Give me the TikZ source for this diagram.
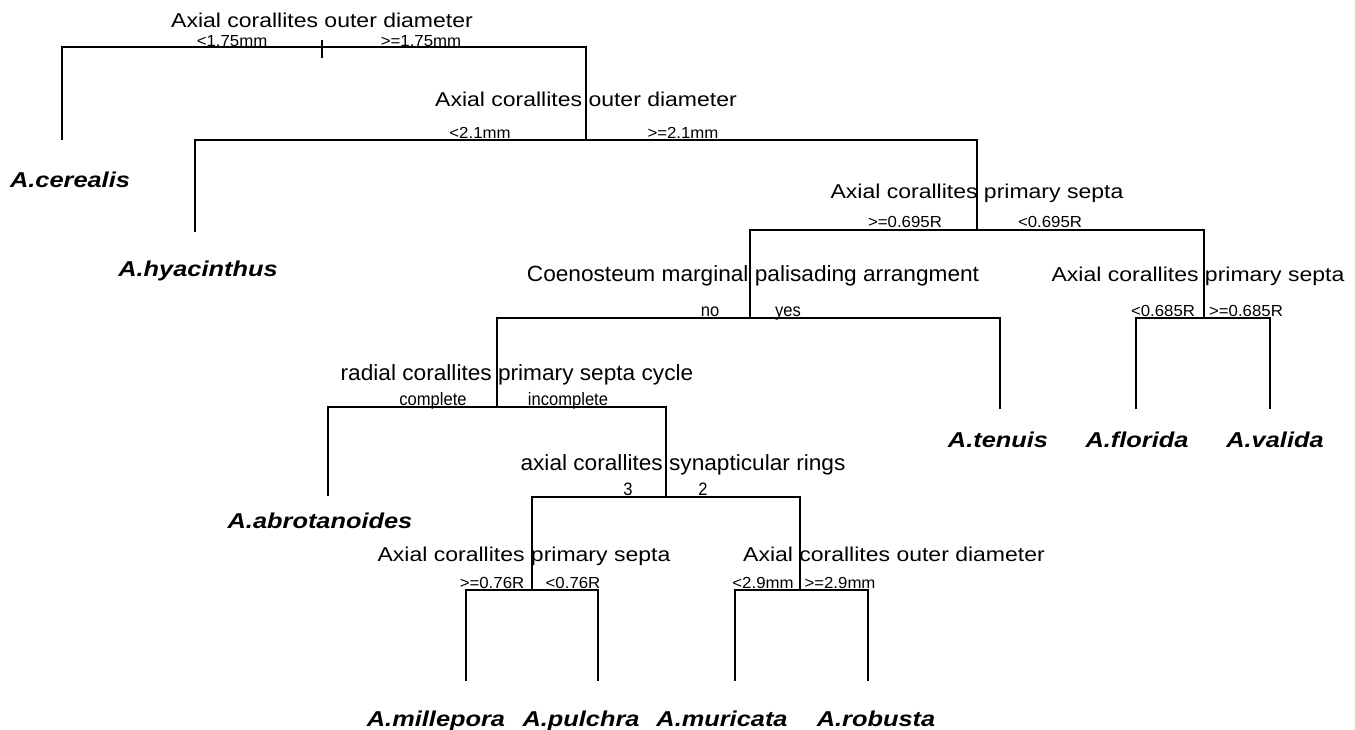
\documentclass[tikz,border=0pt]{standalone}
\usepackage{fontspec}
\setmainfont{Liberation Sans}
\newfontfamily\wideF[FakeStretch=1.15]{Liberation Sans}
\newfontfamily\narrowF[FakeStretch=1.03]{Liberation Sans}
\newfontfamily\smallwF[FakeStretch=1.05]{Liberation Sans}
\newfontfamily\smallnF[FakeStretch=0.92]{Liberation Sans}
\newfontfamily\speciesF[FakeStretch=1.18]{Liberation Sans}
\tikzset{
  edge/.style={line width=1.8pt, black},
  widelab/.style={anchor=base, inner sep=0pt, font={\wideF\fontsize{20}{24}\selectfont}},
  narrowlab/.style={anchor=base, inner sep=0pt, font={\narrowF\fontsize{22}{26}\selectfont}},
  smallw/.style={anchor=base, inner sep=0pt, font={\smallwF\fontsize{16}{19}\selectfont}},
  smalln/.style={anchor=base, inner sep=0pt, font={\smallnF\fontsize{18}{21}\selectfont}},
  species/.style={anchor=base, inner sep=0pt, font={\speciesF\bfseries\itshape\fontsize{21.5}{25}\selectfont}}
}
\begin{document}
\begin{tikzpicture}[x=1pt,y=-1pt]
\fill[white] (0,0) rectangle (1355,729);
\useasboundingbox (0,0) rectangle (1355,729);
% split points (bar level)
\coordinate (n1) at (322,47);
\coordinate (n2) at (586,140);
\coordinate (n3) at (977,230);
\coordinate (n4) at (750,318);
\coordinate (n5) at (1204,318);
\coordinate (n6) at (497,407);
\coordinate (n7) at (666,497);
\coordinate (n8) at (532,590);
\coordinate (n9) at (800,590);
% leaf line ends
\coordinate (e1) at (62,140);
\coordinate (e2) at (195,232);
\coordinate (e3) at (1000,409);
\coordinate (e4) at (1136,409);
\coordinate (e5) at (1270,409);
\coordinate (e6) at (328,496);
\coordinate (e7) at (466,681);
\coordinate (e8) at (598,681);
\coordinate (e9) at (735,681);
\coordinate (e10) at (868,681);
% connectors
\draw[edge] (e1) |- (n1);
\draw[edge] (n2) |- (n1);
\draw[edge] ([yshift=7pt]n1) -- ([yshift=-11pt]n1);
\draw[edge] (e2) |- (n2);
\draw[edge] (n3) |- (n2);
\draw[edge] (n4) |- (n3);
\draw[edge] (n5) |- (n3);
\draw[edge] (n6) |- (n4);
\draw[edge] (e3) |- (n4);
\draw[edge] (e4) |- (n5);
\draw[edge] (e5) |- (n5);
\draw[edge] (e6) |- (n6);
\draw[edge] (n7) |- (n6);
\draw[edge] (n8) |- (n7);
\draw[edge] (n9) |- (n7);
\draw[edge] (e7) |- (n8);
\draw[edge] (e8) |- (n8);
\draw[edge] (e9) |- (n9);
\draw[edge] (e10) |- (n9);
% split labels
\node[widelab] (t1) at (322,27) {Axial corallites outer diameter};
\node[smallw] (t1a) at (232,46) {<1.75mm};
\node[smallw] (t1b) at (421,46) {>=1.75mm};
\node[widelab] (t2) at (586,106) {Axial corallites outer diameter};
\node[smallw] (t2a) at (480,138) {<2.1mm};
\node[smallw] (t2b) at (683,138) {>=2.1mm};
\node[widelab] (t3) at (977,198) {Axial corallites primary septa};
\node[smallw] (t3a) at (905,227) {>=0.695R};
\node[smallw] (t3b) at (1050,227) {<0.695R};
\node[narrowlab] (t4) at (753,281) {Coenosteum marginal palisading arrangment};
\node[smalln] (t4a) at (710,316) {no};
\node[smalln] (t4b) at (788,316) {yes};
\node[widelab] (t5) at (1198,281) {Axial corallites primary septa};
\node[smallw] (t5a) at (1163,316) {<0.685R};
\node[smallw] (t5b) at (1246,316) {>=0.685R};
\node[narrowlab] (t6) at (517,380) {radial corallites primary septa cycle};
\node[smalln] (t6a) at (433,405) {complete};
\node[smalln] (t6b) at (568,405) {incomplete};
\node[narrowlab] (t7) at (683,470) {axial corallites synapticular rings};
\node[smalln] (t7a) at (628,495) {3};
\node[smalln] (t7b) at (703,495) {2};
\node[widelab] (t8) at (524,561) {Axial corallites primary septa};
\node[smallw] (t8a) at (492,588) {>=0.76R};
\node[smallw] (t8b) at (573,588) {<0.76R};
\node[widelab] (t9) at (894,561) {Axial corallites outer diameter};
\node[smallw] (t9a) at (763,588) {<2.9mm};
\node[smallw] (t9b) at (840,588) {>=2.9mm};
% species
\node[species] (s1) at (70,187) {A.cerealis};
\node[species] (s2) at (198,276) {A.hyacinthus};
\node[species] (s3) at (998,447) {A.tenuis};
\node[species] (s4) at (1137,447) {A.florida};
\node[species] (s5) at (1275,447) {A.valida};
\node[species] (s6) at (320,528) {A.abrotanoides};
\node[species] (s7) at (436,726) {A.millepora};
\node[species] (s8) at (581,726) {A.pulchra};
\node[species] (s9) at (722,726) {A.muricata};
\node[species] (s10) at (876,726) {A.robusta};
\end{tikzpicture}
\end{document}
